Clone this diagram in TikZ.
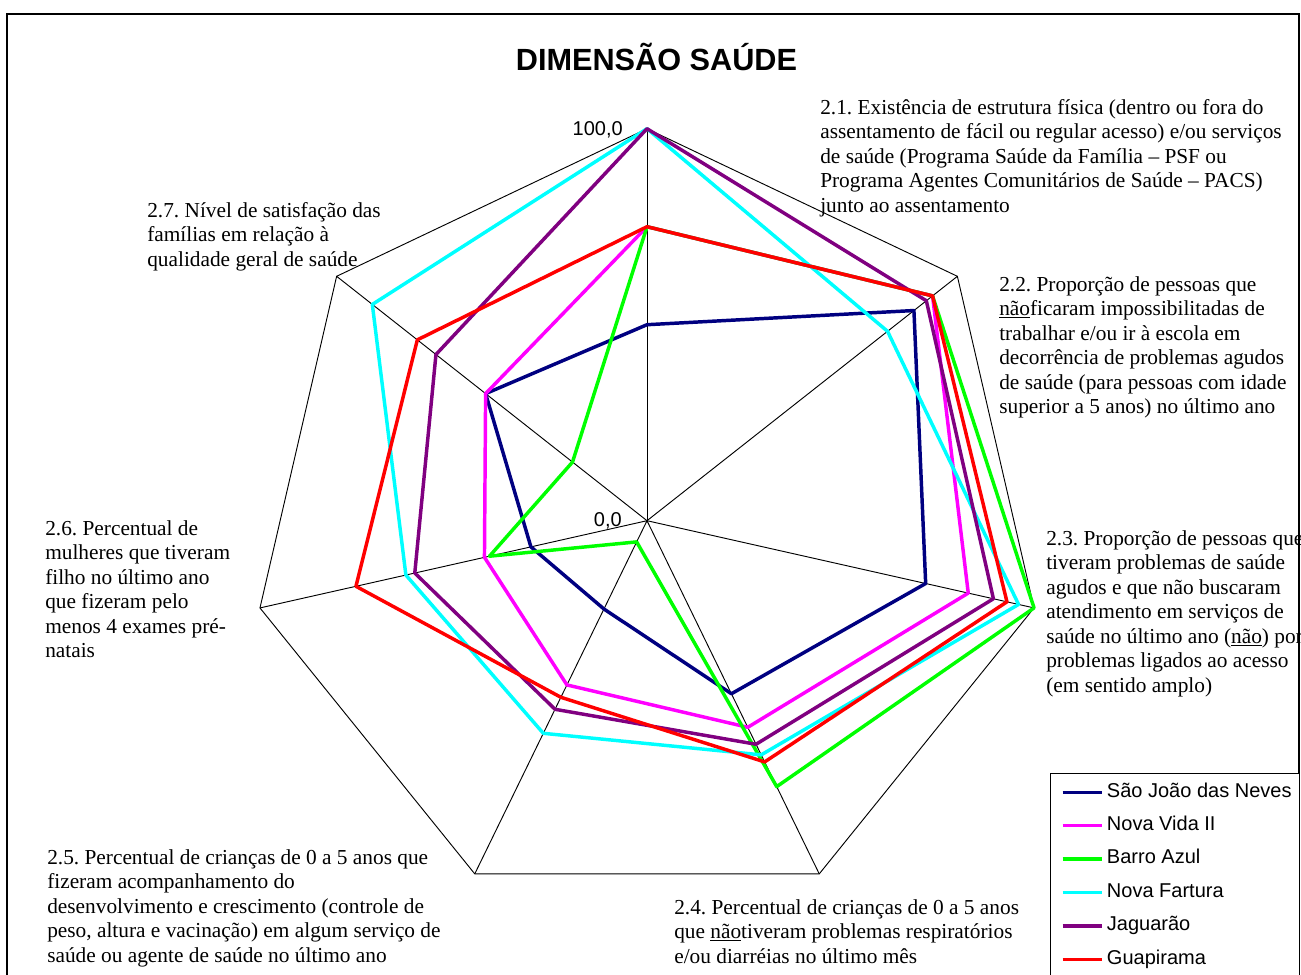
\documentclass[tikz,border=0pt]{standalone}
\usepackage{fontspec}
\setmainfont{Liberation Serif}
\newfontfamily\arialf{Liberation Sans}
\frenchspacing
\definecolor{cnavy}{RGB}{0,0,128}
\definecolor{cmag}{RGB}{255,0,255}
\definecolor{cgreen}{RGB}{0,255,0}
\definecolor{ccyan}{RGB}{0,255,255}
\definecolor{cpurple}{RGB}{128,0,128}
\definecolor{cred}{RGB}{255,0,0}
\newcommand\radarseries[3]{%
  \foreach \v [count=\i from 0] in {#3} {%
    \coordinate (#1-\i) at ({647+3.97*\v*sin(\i*360/7)},{520.7-3.92*\v*cos(\i*360/7)});}
  \draw[ser,#2] (#1-0)--(#1-1)--(#1-2)--(#1-3)--(#1-4)--(#1-5)--(#1-6)--cycle;}
\begin{document}
\begin{tikzpicture}[x=0.75pt,y=-0.75pt,
  lbl/.style={anchor=base west,inner sep=0pt,font=\fontsize{16}{18}\selectfont},
  leg/.style={anchor=base west,inner sep=0pt,font=\arialf\fontsize{15}{18}\selectfont},
  axl/.style={anchor=base east,inner sep=0pt,font=\arialf\fontsize{15}{18}\selectfont},
  gridline/.style={black,line width=0.7pt},
  ser/.style={line width=2.6pt,line join=round},
  legline/.style={line width=2.6pt}]
\useasboundingbox (0,0) rectangle (1301,974);
% frame
\draw[line width=1.2pt] (7,1000) -- (7,14) -- (1299,14) -- (1299,1000);
% title
\node[anchor=base,inner sep=0pt,font=\arialf\bfseries\fontsize{23}{26}\selectfont] (title) at (656.5,70) {DIMENSÃO SAÚDE};
% grid
\coordinate (O) at (647,520.7);
\foreach \k in {0,...,6} {\coordinate (V\k) at ({647+397*sin(\k*360/7)},{520.7-392*cos(\k*360/7)});}
\foreach \k in {0,...,6} {\draw[gridline] (O) -- (V\k);}
\draw[gridline] (V0)--(V1)--(V2)--(V3)--(V4)--(V5)--(V6)--cycle;
% axis value labels
\node[axl] (max) at (623,135) {100,0};
\node[axl] (min) at (622,526) {0,0};
% series
\radarseries{sjn}{cnavy}{50,86,72,49,25,30,52}
\radarseries{nv}{cmag}{75,92,83,58.5,46.5,42,52}
\radarseries{ba}{cgreen}{75,92,100,75.3,6,40.7,24}
\radarseries{nf}{ccyan}{100,77.5,96,66.3,60.2,62.3,88.5}
\radarseries{jg}{cpurple}{100,90,89.5,63.3,53.4,60,68}
\radarseries{gp}{cred}{75,92,93,68.3,50,75.2,74}
% category labels
\foreach \t [count=\i from 0] in {{2.1. Existência de estrutura física (dentro ou fora do},{assentamento de fácil ou regular acesso) e/ou serviços},{de saúde (Programa Saúde da Família – PSF ou},{Programa Agentes Comunitários de Saúde – PACS)},{junto ao assentamento}}
  {\node[lbl] (la\i) at (820,{114+24.5*\i}) {\t};}
\foreach \t [count=\i from 0] in {{2.2. Proporção de pessoas que},{\underline{não}ficaram impossibilitadas de},{trabalhar e/ou ir à escola em},{decorrência de problemas agudos},{de saúde (para pessoas com idade},{superior a 5 anos) no último ano}}
  {\node[lbl] (lb\i) at (999,{291+24.5*\i}) {\t};}
\foreach \t [count=\i from 0] in {{2.3. Proporção de pessoas que},{tiveram problemas de saúde},{agudos e que não buscaram},{atendimento em serviços de},{saúde no último ano (\underline{não}) por},{problemas ligados ao acesso},{(em sentido amplo)}}
  {\node[lbl] (lc\i) at (1046,{545+24.5*\i}) {\t};}
\foreach \t [count=\i from 0] in {{2.4. Percentual de crianças de 0 a 5 anos},{que \underline{não}tiveram problemas respiratórios},{e/ou diarréias no último mês}}
  {\node[lbl] (ld\i) at (674,{914+24.5*\i}) {\t};}
\foreach \t [count=\i from 0] in {{2.5. Percentual de crianças de 0 a 5 anos que},{fizeram acompanhamento do},{desenvolvimento e crescimento (controle de},{peso, altura e vacinação) em algum serviço de},{saúde ou agente de saúde no último ano}}
  {\node[lbl] (le\i) at (47,{864+24.5*\i}) {\t};}
\foreach \t [count=\i from 0] in {{2.6. Percentual de},{mulheres que tiveram},{filho no último ano},{que fizeram pelo},{menos 4 exames pré-},{natais}}
  {\node[lbl] (lf\i) at (45,{535+24.5*\i}) {\t};}
\foreach \t [count=\i from 0] in {{2.7. Nível de satisfação das},{famílias em relação à},{qualidade geral de saúde}}
  {\node[lbl] (lg\i) at (147,{217+24.5*\i}) {\t};}
% legend
\draw[fill=white,line width=0.75pt] (1050.7,773.3) rectangle (1299,1000);
\foreach \c/\n [count=\i from 0] in {cnavy/São João das Neves,cmag/Nova Vida II,cgreen/Barro Azul,ccyan/Nova Fartura,cpurple/Jaguarão,cred/Guapirama}
  {\coordinate (ls\i) at (1062.7,{792.3+33.4*\i});
   \coordinate (lt\i) at (1101.7,{792.3+33.4*\i});
   \draw[legline,\c] (ls\i) -- (lt\i);
   \node[leg] (ln\i) at (1106.7,{797+33.4*\i}) {\n};}
\end{tikzpicture}
\end{document}
